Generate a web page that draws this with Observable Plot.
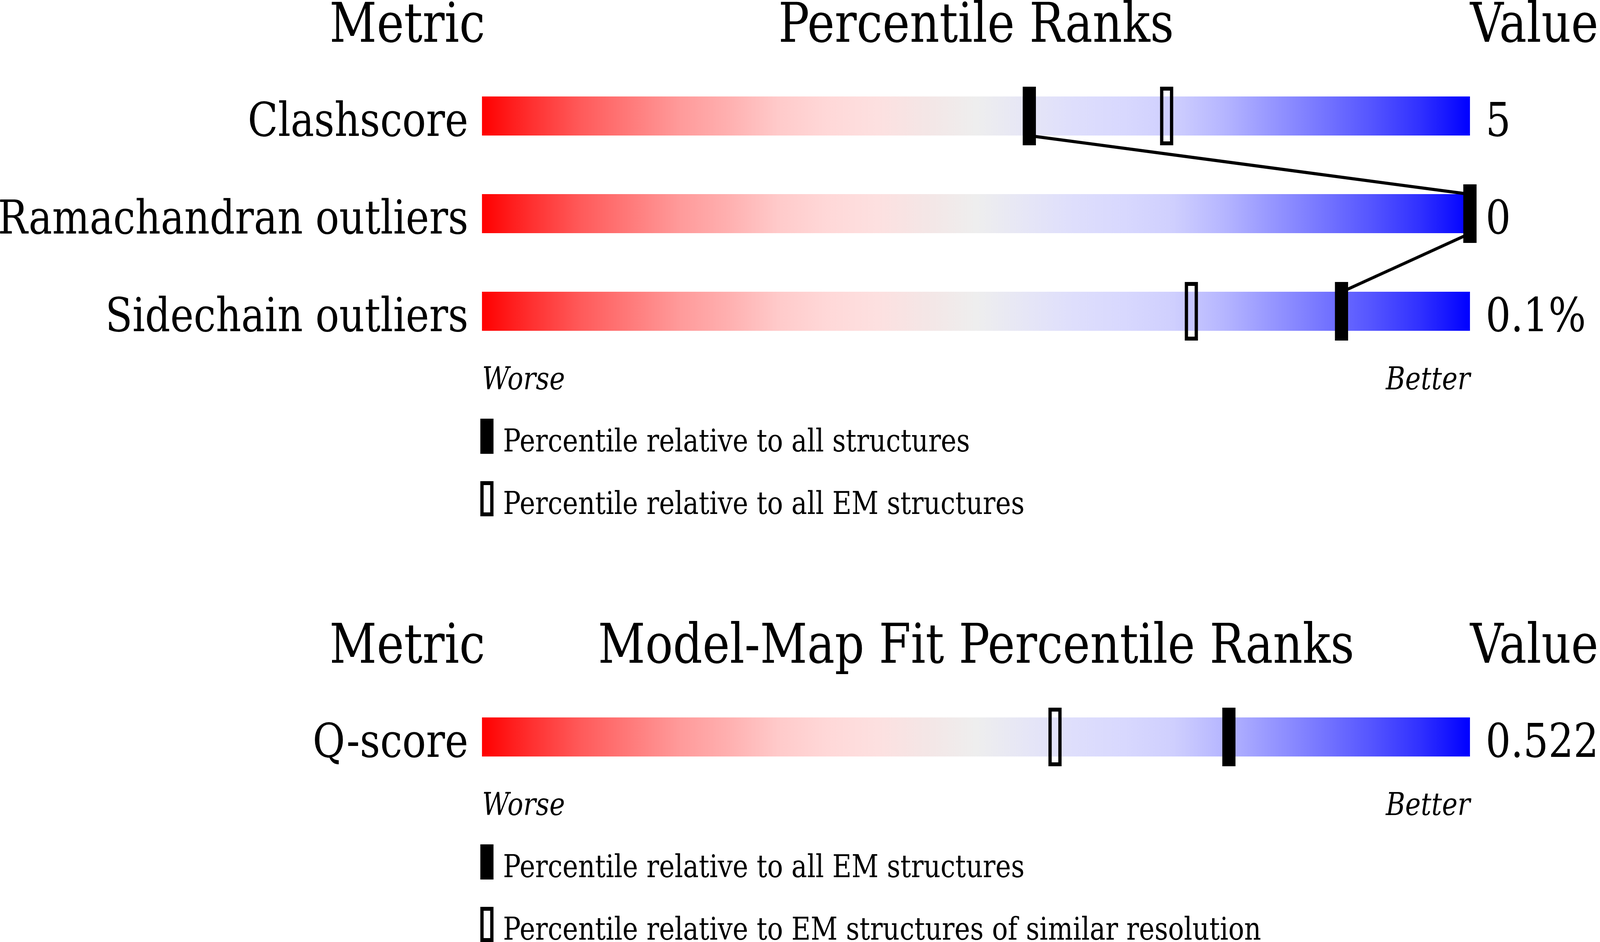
<!DOCTYPE html>
<html>
<head>
<meta charset="utf-8">
<script src="https://cdn.jsdelivr.net/npm/d3@7"></script>
<script src="https://cdn.jsdelivr.net/npm/@observablehq/plot@0.6"></script>
<style>
  html, body { margin: 0; padding: 0; background: #fff; overflow: hidden; }
  #page { position: relative; overflow: hidden; }
  #chart { position: absolute; left: 0; top: 0; width: 4860px; height: 2412px; overflow: hidden; transform-origin: 0 0; background: #fff; }
  .legend { position: relative; font-family: "DejaVu Serif"; }
  .legend .item { position: absolute; left: 1459px; height: 90px; }
  .legend .swatch { position: absolute; left: 0; top: 0; width: 40px; height: 90px; box-sizing: border-box; }
  .legend .swatch.filled { background: #000; }
  .legend .swatch.open { border: 10px solid #000; background: #fff; }
  .legend .label { position: absolute; left: 69px; top: 17px; font-size: 80px; line-height: 80px; white-space: nowrap; color: #000; }
</style>
</head>
<body>
<div id="page"><div id="chart"></div></div>
<script>
// validation metrics, top panel
const geomMetrics = ["Clashscore", "Ramachandran outliers", "Sidechain outliers"];
const geomValues = ["5", "0", "0.1%"];
const geomPctAll = [55.4, 100, 87];      // filled marker
const geomPctEM = [69.3, 100, 71.8];     // open marker
const geomLegend = ["Percentile relative to all structures", "Percentile relative to all EM structures"];

// model-map fit, bottom panel
const fitMetrics = ["Q-score"];
const fitValues = ["0.522"];
const fitPctEM = [75.6];
const fitPctSimilar = [58];
const fitLegend = ["Percentile relative to all EM structures", "Percentile relative to EM structures of similar resolution"];

// red -> grey -> blue slider
const gradientStops = [
  [0, "#ff0000"], [0.05, "#ff3030"], [0.10, "#ff5a5a"], [0.15, "#ff7a7a"],
  [0.20, "#ff9a9a"], [0.25, "#ffb0b0"], [0.30, "#ffcaca"], [0.35, "#ffd8d8"],
  [0.40, "#fde0e0"], [0.45, "#f4e6e6"], [0.50, "#eeeeee"], [0.55, "#e6e6f6"],
  [0.60, "#dedefc"], [0.65, "#d8d8fe"], [0.70, "#cfcffe"], [0.75, "#b6b6ff"],
  [0.80, "#9696ff"], [0.85, "#7676ff"], [0.90, "#5555ff"], [0.95, "#3030ff"],
  [1, "#0000ff"]
];

function gradientDefs(id) {
  return () => {
    const defs = d3.create("svg:defs");
    const g = defs.append("linearGradient")
      .attr("id", id)
      .attr("x1", 0).attr("x2", 1).attr("y1", 0).attr("y2", 0);
    g.selectAll("stop")
      .data(gradientStops)
      .join("stop")
      .attr("offset", d => d[0])
      .attr("stop-color", d => d[1]);
    return defs.node();
  };
}

function panel({title, metrics, values, filled, open, gradId, connect}) {
  const rows = metrics.map((m, i) => ({metric: m, value: values[i], filled: filled[i], open: open[i], row: i}));
  const n = rows.length;
  const marginTop = 172, marginBottom = 118;
  const big = 140, mid = 120, small = 80;

  return Plot.plot({
    width: 4860,
    height: marginTop + n * 250 + marginBottom,
    marginLeft: 1464,
    marginRight: 395,
    marginTop,
    marginBottom,
    x: {domain: [0, 100], axis: null},
    y: {domain: [-0.5, n - 0.5], reverse: true, axis: null},
    style: {fontFamily: "DejaVu Serif", color: "black", background: "white", overflow: "visible", maxWidth: "none"},
    marks: [
      gradientDefs(gradId),
      Plot.rect(rows, {x1: 0, x2: 100, y1: d => d.row - 0.2, y2: d => d.row + 0.2, fill: `url(#${gradId})`}),
      connect ? Plot.link(d3.pairs(rows), {
        x1: ([a]) => a.filled, y1: ([a]) => a.row + 0.2,
        x2: ([, b]) => b.filled, y2: ([, b]) => b.row - 0.2,
        stroke: "black", strokeWidth: 8
      }) : null,
      Plot.rect(rows, {
        x1: "open", x2: "open", y1: d => d.row - 0.3, y2: d => d.row + 0.3,
        insetLeft: -15, insetRight: -15, insetTop: 5, insetBottom: 5,
        fill: "none", stroke: "black", strokeWidth: 10
      }),
      Plot.rect(rows, {
        x1: "filled", x2: "filled", y1: d => d.row - 0.3, y2: d => d.row + 0.3,
        insetLeft: -20, insetRight: -20, fill: "black"
      }),
      Plot.text(rows, {y: d => d.row + 0.2, text: "metric", frameAnchor: "left", textAnchor: "end", lineAnchor: "bottom", dx: -42, fontSize: mid}),
      Plot.text(rows, {y: d => d.row + 0.2, text: "value", frameAnchor: "right", textAnchor: "start", lineAnchor: "bottom", dx: 47, fontSize: mid}),
      Plot.text(["Metric"], {text: d => d, frameAnchor: "top-left", textAnchor: "end", lineAnchor: "bottom", dx: 9, dy: -66, fontSize: big}),
      Plot.text([title], {text: d => d, frameAnchor: "top", textAnchor: "middle", lineAnchor: "bottom", dy: -66, fontSize: big}),
      Plot.text(["Value"], {text: d => d, frameAnchor: "top-right", textAnchor: "start", lineAnchor: "bottom", dy: -66, fontSize: big}),
      Plot.text(["Worse"], {text: d => d, frameAnchor: "bottom-left", textAnchor: "start", lineAnchor: "bottom", dy: 74, fontSize: small, fontStyle: "italic"}),
      Plot.text(["Better"], {text: d => d, frameAnchor: "bottom-right", textAnchor: "end", lineAnchor: "bottom", dy: 74, fontSize: small, fontStyle: "italic"})
    ]
  });
}

function legend(labels, height) {
  const div = d3.create("div").attr("class", "legend").style("height", height + "px");
  const items = div.selectAll(".item")
    .data(labels)
    .join("div")
    .attr("class", "item")
    .style("top", (d, i) => (32 + i * 160) + "px");
  items.append("div").attr("class", (d, i) => "swatch " + (i === 0 ? "filled" : "open"));
  items.append("div").attr("class", "label").text(d => d);
  return div.node();
}

const root = d3.select("#chart");

root.append(() => panel({
  title: "Percentile Ranks",
  metrics: geomMetrics, values: geomValues,
  filled: geomPctAll, open: geomPctEM,
  gradId: "slider-geom", connect: true
}));
root.append(() => legend(geomLegend, 550));

root.append(() => panel({
  title: "Model-Map Fit Percentile Ranks",
  metrics: fitMetrics, values: fitValues,
  filled: fitPctEM, open: fitPctSimilar,
  gradId: "slider-fit", connect: false
}));
root.append(() => legend(fitLegend, 282));

// the 4860x2412 drawing is stretched onto the window's actual CSS size
function fit() {
  const w = document.documentElement.clientWidth;
  const h = document.documentElement.clientHeight;
  d3.select("#chart").style("transform", `scale(${w / 4860}, ${h / 2412})`);
  d3.select("#page").style("width", w + "px").style("height", h + "px");
}
fit();
window.addEventListener("resize", fit);
</script>
</body>
</html>
